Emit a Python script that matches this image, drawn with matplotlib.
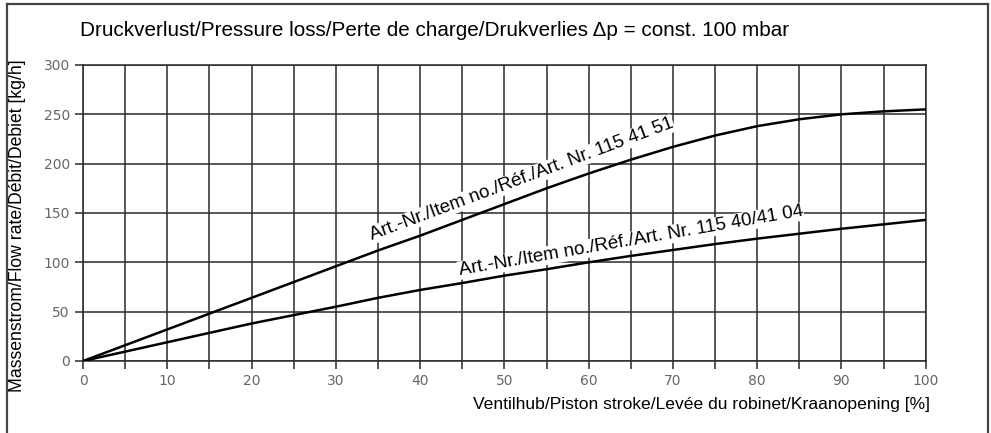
import matplotlib.pyplot as plt
from matplotlib.lines import Line2D

# stroke in % and flow rate in kg/h
stroke = [0, 5, 10, 15, 20, 25, 30, 35, 40, 45, 50, 55, 60, 65, 70, 75, 80, 85, 90, 95, 100]
flow_415151 = [0, 16, 32, 48, 64, 80, 96, 112, 127, 143, 159, 175, 190, 204, 217, 228.5, 238, 245, 250, 253, 255]
flow_404104 = [0, 9.5, 19, 28.5, 38, 46.5, 55, 64, 72, 79, 86.5, 93, 100, 106.5, 112.5, 118.5, 124, 129, 134, 138.5, 143]

label_415151 = "Art.-Nr./Item no./Réf./Art. Nr. 115 41 51"
label_404104 = "Art.-Nr./Item no./Réf./Art. Nr. 115 40/41 04"

x_ticks = list(range(0, 101, 10))
y_ticks = list(range(0, 301, 50))

plt.rcParams['font.family'] = ['Liberation Sans', 'DejaVu Sans']

fig = plt.figure(figsize=(9.91, 4.33), dpi=100)
ax = fig.add_axes([0.0838, 0.1663, 0.8503, 0.6836])

grid_col = '#2a2a2a'
ax.set_xlim(0, 100)
ax.set_ylim(0, 300)
ax.set_xticks(x_ticks)
ax.set_xticks(list(range(0, 101, 5)), minor=True)
ax.set_yticks(y_ticks)
ax.grid(True, which='both', axis='x', color=grid_col, lw=1.1)
ax.grid(True, which='major', axis='y', color=grid_col, lw=1.1)
ax.set_axisbelow(True)
for s in ax.spines.values():
    s.set_color(grid_col)
    s.set_linewidth(1.1)
ax.tick_params(which='both', direction='out', length=6, width=1.1, color=grid_col,
               labelcolor='#666666', labelsize=10)
for lab in ax.get_xticklabels() + ax.get_yticklabels():
    lab.set_family(['DejaVu Sans'])

ax.plot(stroke, flow_415151, color='black', lw=1.8, zorder=4)
ax.plot(stroke, flow_404104, color='black', lw=1.8, zorder=4)

bb = dict(facecolor='white', edgecolor='none', pad=0.5)
ax.text(52.0, 184, label_415151, rotation=20.5, rotation_mode='anchor',
        ha='center', va='center', fontsize=13.5, bbox=bb, zorder=3)
ax.text(65.0, 121.5, label_404104, rotation=9.8, rotation_mode='anchor',
        ha='center', va='center', fontsize=13.5, bbox=bb, zorder=3)

fig.text(80 / 991, 1 - 30 / 433, "Druckverlust/Pressure loss/Perte de charge/Drukverlies \u0394p = const. 100 mbar",
         ha='left', va='center', fontsize=14.9)
fig.text(18 / 991, 1 - 226 / 433, "Massenstrom/Flow rate/Débit/Debiet [kg/h]",
         rotation=90, ha='center', va='center', fontsize=12.7)
fig.text(930 / 991, 1 - 405 / 433, "Ventilhub/Piston stroke/Levée du robinet/Kraanopening [%]",
         ha='right', va='center', fontsize=12.6)

# outer frame (open at the bottom)
fc = '#444444'
fig.add_artist(Line2D([6.5 / 991, 6.5 / 991], [0, 1 - 4 / 433], color=fc, lw=1.6))
fig.add_artist(Line2D([6.5 / 991, 987.5 / 991], [1 - 4 / 433, 1 - 4 / 433], color=fc, lw=1.6))
fig.add_artist(Line2D([987.5 / 991, 987.5 / 991], [0, 1 - 4 / 433], color=fc, lw=1.6))

fig.savefig('out.png', dpi=100)
